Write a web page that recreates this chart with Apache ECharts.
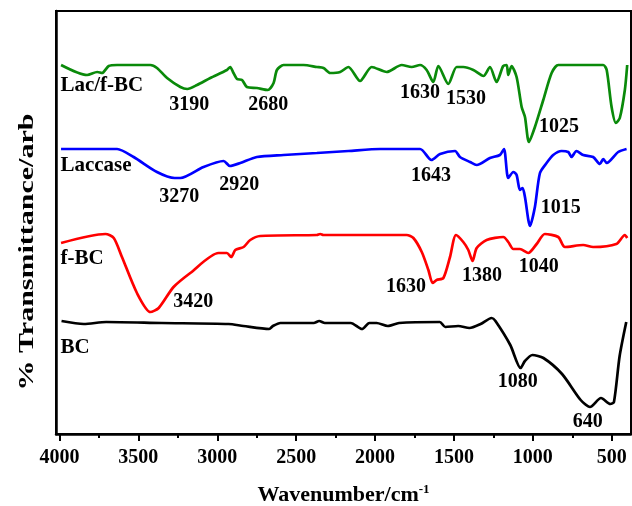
<!DOCTYPE html>
<html>
<head>
<meta charset="utf-8">
<script src="https://cdn.jsdelivr.net/npm/echarts@6/dist/echarts.min.js"></script>
<style>html,body{margin:0;padding:0;background:#fff}#c{width:632px;height:506px}</style>
</head>
<body>
<div id="c"></div>
<script>
// Wavenumber (cm-1), transmittance (arbitrary, offset) pairs
var lacFbc = [[3990,369],[3825,359],[3761,362],[3730,361],[3688,368],[3635,369],[3424,369],[3382,366],[3318,356],[3234,347],[3190,345],[3128,349],[3044,356],[2939,364],[2918,367],[2897,361],[2875,355],[2843,354],[2812,347],[2749,346],[2680,344],[2643,351],[2622,364],[2580,369],[2453,369],[2369,367],[2327,366],[2285,361],[2221,362],[2169,367],[2095,353],[2021,367],[1926,362],[1831,369],[1768,367],[1715,369],[1673,364],[1631,352],[1599,368],[1536,350],[1483,367],[1441,367],[1377,364],[1313,358],[1272,367],[1230,352],[1188,368],[1166,369],[1156,359],[1135,368],[1103,357],[1071,327],[1050,317],[1025,292],[987,307],[934,334],[881,361],[839,369],[554,369],[532,364],[501,327],[474,311],[449,316],[417,344],[402,369]];
var laccase = [[3990,285],[3635,285],[3530,277],[3382,262],[3270,256],[3234,256],[3087,267],[2960,273],[2920,268],[2854,271],[2749,277],[2580,279],[2369,281],[2169,283],[1968,285],[1715,285],[1643,274],[1588,280],[1493,283],[1462,277],[1398,272],[1356,269],[1272,276],[1209,279],[1183,285],[1156,256],[1124,262],[1103,259],[1082,244],[1065,246],[1050,237],[1018,208],[987,227],[955,261],[913,271],[871,279],[818,283],[776,282],[755,277],[724,283],[681,279],[618,277],[575,270],[554,275],[532,271],[459,282],[406,285]];
var fBC = [[3990,191],[3709,200],[3656,196],[3604,177],[3509,141],[3424,122],[3371,126],[3277,147],[3171,161],[2992,181],[2939,181],[2911,177],[2886,184],[2833,187],[2791,194],[2728,198],[2369,199],[2348,200],[2327,199],[2221,199],[1800,199],[1757,196],[1704,182],[1662,164],[1635,151],[1610,154],[1567,156],[1525,177],[1487,199],[1441,192],[1409,184],[1382,173],[1356,186],[1293,194],[1187,197],[1156,192],[1124,185],[1082,185],[1029,181],[976,190],[924,200],[839,197],[797,187],[681,189],[618,187],[471,190],[417,199],[402,196]];
var bc = [[3987,113],[3846,110],[3704,112],[3352,111],[2929,110],[2835,108],[2671,105],[2647,108],[2600,111],[2389,111],[2354,113],[2318,111],[2154,111],[2083,105],[2036,111],[1990,111],[1919,108],[1848,111],[1590,112],[1555,107],[1473,108],[1402,106],[1331,110],[1261,116],[1237,113],[1143,89],[1078,66],[1050,73],[1003,79],[933,76],[815,60],[697,34],[638,27],[568,36],[509,30],[486,32],[450,78],[408,112]];

var seriesNames = ['Lac/f-BC','Laccase','f-BC','BC'];
var seriesColors = ['#0a8a0a','#0000ff','#ff0000','#000000'];
var majorTicks = [4000,3500,3000,2500,2000,1500,1000,500];
var minorTicks = [3750,3250,2750,2250,1750,1250,750];
// annotation text, wavenumber, transmittance, series index
var annotations = [
  ['Lac/f-BC',3994,348,0],['3190',3177,329,0],['2680',2677,329,0],['1630',1715,341,0],['1530',1424,335,0],['1025',835,307,0],
  ['Laccase',3994,268,1],['3270',3241,237,1],['2920',2861,249,1],['1643',1646,258,1],['1015',823,226,1],
  ['f-BC',3994,175,2],['3420',3152,132,2],['1630',1804,147,2],['1380',1323,158,2],['1040',962,167,2],
  ['BC',3994,86,3],['1080',1095,52,3],['640',652,12,3]
];

var FONT = "'Liberation Serif','Times New Roman',serif";
var allData = [lacFbc, laccase, fBC, bc];

var series = allData.map(function(d, i){
  var mp = annotations.filter(function(a){return a[3]===i;}).map(function(a){
    var isName = isNaN(Number(a[0]));
    return {
      coord:[a[1],a[2]], value:a[0],
      label: isName ? {position:'right', distance:0, align:'left', fontSize:21} : {position:'inside'}
    };
  });
  return {
    name: seriesNames[i], type:'line', data:d, showSymbol:false, smooth:0.25,
    lineStyle:{color:seriesColors[i], width:2.7}, itemStyle:{color:seriesColors[i]},
    animation:false, xAxisIndex:0,
    markPoint:{symbol:'circle', symbolSize:0, animation:false, silent:true,
      label:{show:true, formatter:function(p){return p.value;}, color:'#000', fontFamily:FONT, fontWeight:'bold', fontSize:20},
      data: mp}
  };
});

var chart = echarts.init(document.getElementById('c'), null, {renderer:'canvas'});
chart.setOption({
  animation:false,
  backgroundColor:'#fff',
  grid:{left:56, right:1, top:11, bottom:72, outerBoundsMode:'none', containLabel:false, show:true, borderColor:'#000', borderWidth:2, backgroundColor:'transparent'},
  xAxis:[{
    type:'value', min:378, max:4022, inverse:true,
    name:'Wavenumber/cm{sup|-1}', nameLocation:'middle', nameGap:49,
    nameTextStyle:{fontFamily:FONT, fontWeight:'bold', fontSize:22, color:'#000',
      rich:{sup:{fontFamily:FONT, fontWeight:'bold', fontSize:13, color:'#000', padding:[0,0,12,0]}}},
    axisLine:{show:true, onZero:false, lineStyle:{color:'#000', width:2.5}},
    axisTick:{show:true, inside:false, length:7, customValues:majorTicks, lineStyle:{color:'#000', width:2}},
    axisLabel:{show:true, customValues:majorTicks, margin:14, formatter:function(v){return String(v);}, fontFamily:FONT, fontWeight:'bold', fontSize:20, color:'#000'},
    splitLine:{show:false}
  },{
    type:'value', min:378, max:4022, inverse:true, position:'bottom',
    axisLine:{show:false},
    axisTick:{show:true, inside:false, length:4, customValues:minorTicks, lineStyle:{color:'#000', width:2}},
    axisLabel:{show:false}, splitLine:{show:false}
  }],
  yAxis:{type:'value', min:0, max:423,
    axisLine:{show:true, onZero:false, lineStyle:{color:'#000', width:2.5}},
    axisTick:{show:false}, axisLabel:{show:false}, splitLine:{show:false}},
  graphic:[{
    type:'text', x:28, y:252, rotation:Math.PI/2, scaleX:1.5, silent:true,
    style:{text:'% Transmittance/arb', fontFamily:FONT, fontWeight:'bold', fontSize:20, fill:'#000', align:'center', verticalAlign:'middle'}
  }],
  series: series
});
</script>
</body>
</html>
